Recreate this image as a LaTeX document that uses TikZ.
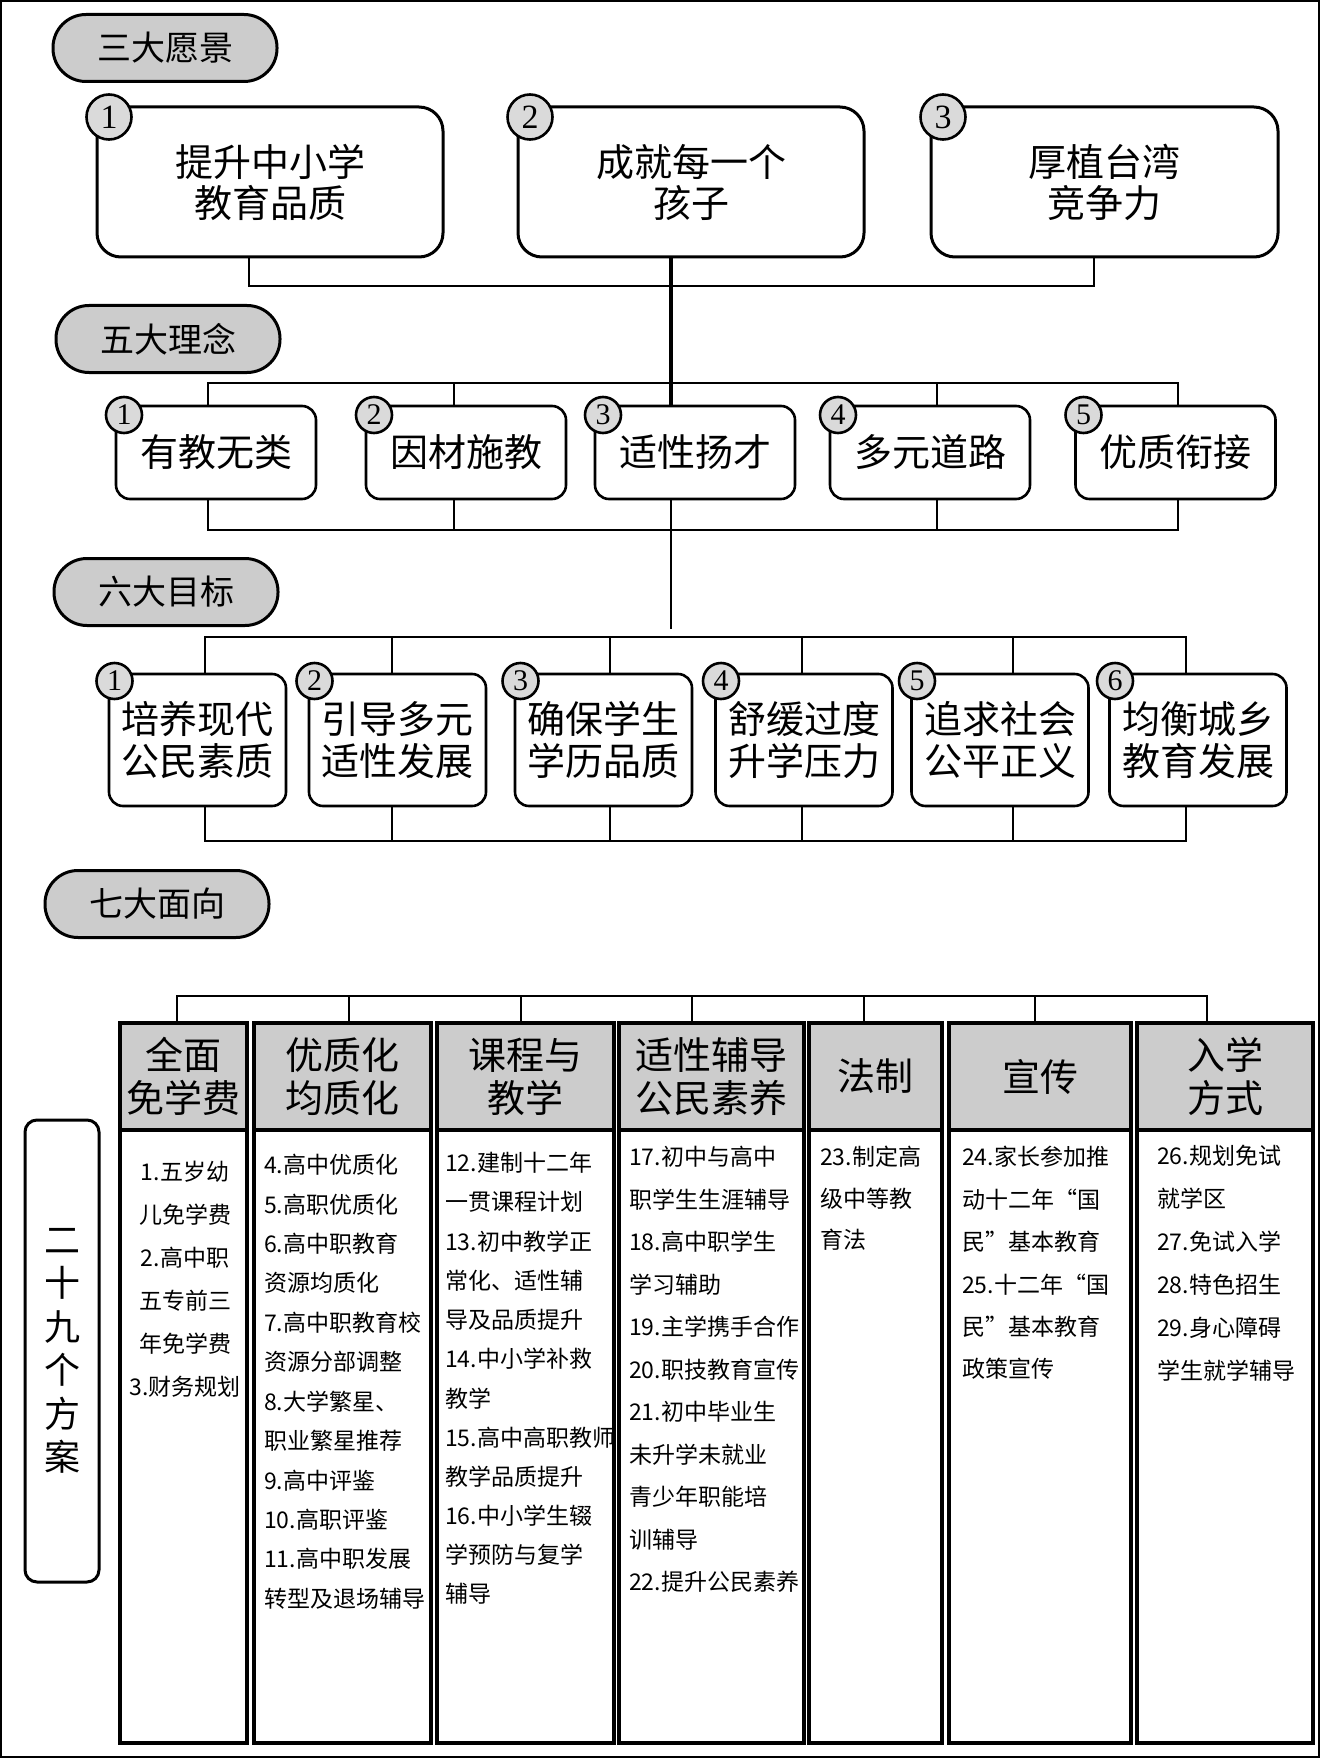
\documentclass[tikz,border=0pt]{standalone}
\usepackage{fontspec}
\setmainfont{Liberation Serif}
\newfontfamily\cjk{Noto Sans CJK SC}
\usepackage{tikz}
\usetikzlibrary{calc}
\definecolor{pillfill}{RGB}{204,204,204}
\definecolor{badgefill}{RGB}{218,218,218}
\definecolor{headfill}{RGB}{204,204,204}
\tikzset{
 pill/.style={draw, line width=3pt, fill=pillfill, rounded corners=33pt,
        minimum width=224pt, minimum height=67pt, inner sep=0pt,
        font=\cjk\fontsize{34}{34}\selectfont},
 visbox/.style={draw, line width=3pt, fill=white, rounded corners=24pt,
        minimum height=150pt, inner sep=0pt, align=center,
        font=\cjk\fontsize{38}{41}\selectfont},
 ideabox/.style={draw, line width=2.6pt, fill=white, rounded corners=14pt,
        minimum width=200pt, minimum height=93pt, inner sep=0pt,
        font=\cjk\fontsize{38}{38}\selectfont},
 goalbox/.style={ideabox, minimum width=177pt, minimum height=132pt,
        align=center, font=\cjk\fontsize{38}{42}\selectfont},
 badge/.style={circle, draw, line width=2.6pt, fill=badgefill, inner sep=0pt,
        minimum size=36pt, font=\fontsize{30}{30}\selectfont},
 badge big/.style={badge, minimum size=45pt, font=\fontsize{34}{34}\selectfont},
 link/.style={line width=2.5pt, line cap=rect},
 trunk/.style={link, line width=4pt},
 colhead/.style={draw, line width=4pt, fill=headfill, outer sep=0pt,
        minimum height=107pt, inner sep=0pt, align=center,
        font=\cjk\fontsize{38}{43}\selectfont},
 colbody/.style={draw, line width=4pt, fill=white, outer sep=0pt,
        minimum height=613pt, inner sep=0pt},
 item/.style={inner sep=0pt, font=\cjk\fontsize{23}{23}\selectfont},
 sidebox/.style={draw, line width=3pt, rounded corners=12pt,
        minimum width=74pt, minimum height=462pt, inner sep=0pt,
        align=center, font=\cjk\fontsize{36}{43.5}\selectfont},
}

\begin{document}
\begin{tikzpicture}[x=1pt, y=-1pt]
\useasboundingbox (0,0) rectangle (1322,1760);
\draw[line width=2pt] (1,1) rectangle (1319,1757);

% Section titles down the left side
\node[pill] (t1) at (165,48) {三大愿景};
\node[pill] (t2) at (168,339) {五大理念};
\node[pill] (t3) at (166,592) {六大目标};
\node[pill] (t4) at (157,904) {七大面向};

% Three visions
\foreach \txt/\cx/\w [count=\i] in {%
 {提升中小学\\教育品质}/270/346, {成就每一个\\孩子}/691/346,
 {厚植台湾\\竞争力}/1104.5/347%
}{
 \node[visbox, minimum width=\w] (vis\i) at (\cx,182) {\txt};
 \node[badge big] (vb\i) at ({\cx-\w/2+12},117) {\i};
}
\coordinate (visbus) at (0,286);
\draw[link] (vis1.south -| 249,0) |- (visbus -| 1094,0) -- (vis3.south -| 1094,0);

% Five ideas
\foreach \txt/\cx [count=\i] in {%
 有教无类/216, 因材施教/466, 适性扬才/695, 多元道路/930, 优质衔接/1175.5%
}{
 \node[ideabox] (idea\i) at (\cx,452.5) {\txt};
 \node[badge] (ib\i) at ({\cx-92},415) {\i};
}
\draw[trunk] (vis2.south -| 671,0) -- (idea3.north -| 671,0);
\coordinate (ideatop) at (0,383);
\coordinate (ideabot) at (0,530);
\foreach \n/\x in {1/208, 2/454, 3/671, 4/937, 5/1178}{
 \draw[link] (idea\n.north -| \x,0) -- (ideatop -| \x,0);
 \draw[link] (idea\n.south -| \x,0) -- (ideabot -| \x,0);
}
\draw[link] (ideatop -| 208,0) -- (ideatop -| 1178,0);
\draw[link] (ideabot -| 208,0) -- (ideabot -| 1178,0);
\coordinate (trunkend) at (671,628);
\draw[link] (ideabot -| 671,0) -- (trunkend);

% Six goals
\foreach \txt/\cx [count=\i] in {%
 {培养现代\\公民素质}/197.5, {引导多元\\适性发展}/397.5, {确保学生\\学历品质}/603.5,
 {舒缓过度\\升学压力}/804, {追求社会\\公平正义}/1000, {均衡城乡\\教育发展}/1198%
}{
 \node[goalbox] (goal\i) at (\cx,740) {\txt};
 \node[badge] (gb\i) at ({\cx-83},681) {\i};
}
\coordinate (goaltop) at (0,637);
\coordinate (goalbot) at (0,841);
\foreach \n/\x in {1/205, 2/392, 3/610, 4/802, 5/1013, 6/1186}{
 \draw[link] (goal\n.north -| \x,0) -- (goaltop -| \x,0);
 \draw[link] (goal\n.south -| \x,0) -- (goalbot -| \x,0);
}
\draw[link] (goaltop -| 205,0) -- (goaltop -| 1186,0);
\draw[link] (goalbot -| 205,0) -- (goalbot -| 1186,0);

% Seven aspects: grey head on top of a tall list column
\foreach \head/\cx/\w [count=\i] in {%
 {全面\\免学费}/183.5/127, {优质化\\均质化}/342.5/177, {课程与\\教学}/525.5/177,
 {适性辅导\\公民素养}/711.5/185, 法制/875.5/133, 宣传/1040/182,
 {入学\\方式}/1225/176%
}{
 \node[colhead, minimum width=\w] (face\i) at (\cx,1076.5) {\head};
 \node[colbody, minimum width=\w, anchor=north] (plan\i) at (face\i.south) {};
}
\coordinate (facebus) at (0,996);
\foreach \n/\x in {1/177, 2/349, 3/521, 4/692, 5/864, 6/1035, 7/1207}
 \draw[link] (face\n.north -| \x,0) -- (facebus -| \x,0);
\draw[link] (facebus -| 177,0) -- (facebus -| 1207,0);

% Twenty-nine programmes
\node[sidebox] (side) at (62,1351) {二\\十\\九\\个\\方\\案};
\foreach \t [count=\j] in {1.五岁幼, 儿免学费, 2.高中职, 五专前三, 年免学费, 3.财务规划}
 \node[item] (p1-\j) at (185,{1172+(\j-1)*43}) {\t};
\foreach \t [count=\j] in {4.高中优质化, 5.高职优质化, 6.高中职教育, 资源均质化,
 7.高中职教育校, 资源分部调整, 8.大学繁星、, 职业繁星推荐, 9.高中评鉴,
 10.高职评鉴, 11.高中职发展, 转型及退场辅导}
 \node[item, anchor=west] (p2-\j) at (264,{1165+(\j-1)*39.4}) {\t};
\foreach \t [count=\j] in {12.建制十二年, 一贯课程计划, 13.初中教学正, 常化、适性辅,
 导及品质提升, 14.中小学补救, 教学, 15.高中高职教师, 教学品质提升,
 16.中小学生辍, 学预防与复学, 辅导}
 \node[item, anchor=west] (p3-\j) at (445,{1163+(\j-1)*39.2}) {\t};
\foreach \t [count=\j] in {17.初中与高中, 职学生生涯辅导, 18.高中职学生, 学习辅助,
 19.主学携手合作, 20.职技教育宣传, 21.初中毕业生, 未升学未就业,
 青少年职能培, 训辅导, 22.提升公民素养}
 \node[item, anchor=west] (p4-\j) at (629,{1157+(\j-1)*42.5}) {\t};
\foreach \t [count=\j] in {23.制定高, 级中等教, 育法}
 \node[item, anchor=west] (p5-\j) at (820,{1157+(\j-1)*41.5}) {\t};
\foreach \t [count=\j] in {24.家长参加推, 动十二年“国, 民”基本教育, 25.十二年“国,
 民”基本教育, 政策宣传}
 \node[item, anchor=west] (p6-\j) at (962,{1157+(\j-1)*42.4}) {\t};
\foreach \t [count=\j] in {26.规划免试, 就学区, 27.免试入学, 28.特色招生, 29.身心障碍,
 学生就学辅导}
 \node[item, anchor=west] (p7-\j) at (1157,{1156+(\j-1)*42.9}) {\t};
\end{tikzpicture}
\end{document}
